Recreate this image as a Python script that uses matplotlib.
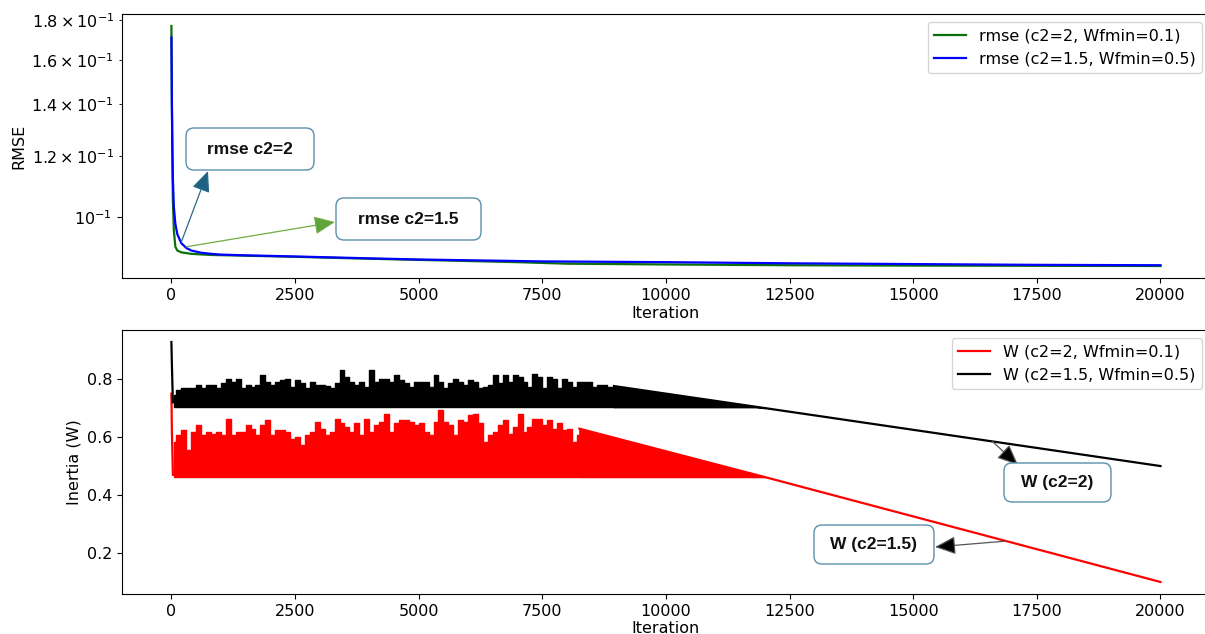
import matplotlib
matplotlib.use("Agg")
import matplotlib.pyplot as plt
import numpy as np
from matplotlib.patches import FancyBboxPatch

# ---------------- data ----------------
# RMSE curves (top panel)
rmse_iter_a = [0, 5, 10, 20, 30, 50, 80, 120, 200, 400, 800, 1500, 2500, 4000, 5000,
               7000, 8000, 10000, 12500, 15000, 20000]
rmse_c2_2 = [0.177, 0.160, 0.140, 0.118, 0.105, 0.096, 0.0915, 0.0905, 0.0900, 0.0896,
             0.0893, 0.0891, 0.0888, 0.0883, 0.0880, 0.0874, 0.0870, 0.0868, 0.0866,
             0.0865, 0.0864]
rmse_iter_b = [0, 5, 10, 20, 30, 50, 80, 120, 200, 300, 400, 600, 800, 1000, 1500, 2500,
               4000, 5000, 7500, 10000, 12500, 15000, 17500, 20000]
rmse_c2_15 = [0.171, 0.155, 0.140, 0.123, 0.112, 0.103, 0.098, 0.095, 0.0925, 0.0912,
              0.0905, 0.0899, 0.0896, 0.0894, 0.0892, 0.0889, 0.0884, 0.0881, 0.0876,
              0.0874, 0.0871, 0.0869, 0.0867, 0.0866]

# inertia W (bottom panel): start spike, noisy band (floor + peaks per 100 iterations), linear tail
w_red_start_iter = [0, 10, 30]
w_red_start = [0.75, 0.62, 0.47]
w_red_floor = 0.462
w_red_noise_iter = np.arange(50, 8300, 100)
w_red_peaks = [
    0.583, 0.606, 0.623, 0.555, 0.618, 0.641, 0.606, 0.618, 0.612, 0.618,
    0.606, 0.664, 0.606, 0.618, 0.618, 0.641, 0.629, 0.606, 0.641, 0.658,
    0.606, 0.623, 0.623, 0.618, 0.595, 0.600, 0.572, 0.606, 0.618, 0.652,
    0.629, 0.606, 0.618, 0.664, 0.647, 0.635, 0.618, 0.647, 0.606, 0.664,
    0.618, 0.641, 0.652, 0.681, 0.618, 0.647, 0.658, 0.658, 0.652, 0.641,
    0.647, 0.618, 0.606, 0.652, 0.693, 0.652, 0.641, 0.606, 0.658, 0.652,
    0.675, 0.681,
    0.647, 0.583, 0.606, 0.618, 0.641, 0.658, 0.612, 0.635, 0.681, 0.618,
    0.635, 0.664, 0.664, 0.641, 0.658, 0.629, 0.647, 0.623, 0.629, 0.583,
    0.606]
w_red_tail_iter = [8250, 12000, 20000]
w_red_tail = [0.629, 0.462, 0.10]

w_blk_start_iter = [0, 10, 30]
w_blk_start = [0.928, 0.85, 0.72]
w_blk_floor = 0.703
w_blk_noise_iter = np.arange(50, 9000, 100)
w_blk_peaks = [
    0.745, 0.762, 0.770, 0.768, 0.768, 0.779, 0.768, 0.779, 0.779, 0.768,
    0.785, 0.802, 0.791, 0.802, 0.768, 0.779, 0.773, 0.779, 0.813, 0.791,
    0.779, 0.791, 0.796, 0.802, 0.773, 0.796, 0.785, 0.768, 0.791, 0.779,
    0.779, 0.777, 0.770, 0.785, 0.831, 0.808, 0.791, 0.779, 0.791, 0.773,
    0.831, 0.791, 0.802, 0.802, 0.791, 0.813, 0.796, 0.785, 0.773, 0.791,
    0.791, 0.791, 0.773, 0.813, 0.791, 0.768, 0.785, 0.802, 0.791, 0.779,
    0.796, 0.791,
    0.768, 0.773, 0.779, 0.813, 0.785, 0.813, 0.791, 0.813, 0.808, 0.791,
    0.773, 0.819, 0.808, 0.768, 0.808, 0.802, 0.768, 0.802, 0.791, 0.773,
    0.791, 0.791, 0.791, 0.773, 0.779, 0.779, 0.773, 0.773]
w_blk_tail_iter = [8950, 12000, 20000]
w_blk_tail = [0.776, 0.70, 0.50]

# ---------------- figure ----------------
W_PX, H_PX = 1205, 634
plt.rcParams['font.size'] = 11.5
fig = plt.figure(figsize=(W_PX / 100, H_PX / 100), dpi=100)

ax1 = fig.add_axes([0.1012, 0.5615, 0.9029, 0.4164])
ax2 = fig.add_axes([0.1012, 0.0631, 0.9029, 0.4164])

# top: RMSE
ax1.plot(rmse_iter_a, rmse_c2_2, color='#0a700a', lw=1.6, label='rmse (c2=2, Wfmin=0.1)')
ax1.plot(rmse_iter_b, rmse_c2_15, color='blue', lw=1.6, label='rmse (c2=1.5, Wfmin=0.5)')
ax1.set_yscale('log')
ax1.set_xlabel('Iteration', labelpad=2)
ax1.set_ylabel('RMSE')
ax1.legend(loc='upper right')

# bottom: inertia
ax2.fill_between(w_red_noise_iter, w_red_floor, w_red_peaks, step='mid',
                 color='red', lw=1.0)
ax2.fill_between(w_red_tail_iter[:2], w_red_floor, w_red_tail[:2], color='red', lw=1.0)
ax2.plot(w_red_start_iter, w_red_start, color='red', lw=1.6)
ax2.plot(w_red_tail_iter, w_red_tail, color='red', lw=1.6, label='W (c2=2, Wfmin=0.1)')

ax2.fill_between(w_blk_noise_iter, w_blk_floor, w_blk_peaks, step='mid',
                 color='black', lw=1.0)
ax2.fill_between(w_blk_tail_iter[:2], w_blk_floor, w_blk_tail[:2], color='black', lw=1.0)
ax2.plot(w_blk_start_iter, w_blk_start, color='black', lw=1.6)
ax2.plot(w_blk_tail_iter, w_blk_tail, color='black', lw=1.6, label='W (c2=1.5, Wfmin=0.5)')
ax2.set_xlabel('Iteration', labelpad=2)
ax2.set_ylabel('Inertia (W)')
ax2.set_yticks([0.2, 0.4, 0.6, 0.8])
ax2.legend(loc='upper right')


# call-out boxes (pixel positions on the figure, origin top-left)
def callout(ax, text, box, tip, point, arrow_color, head_color):
    x0, y0, x1, y1 = box
    patch = FancyBboxPatch((x0 / 100, (H_PX - y1) / 100), (x1 - x0) / 100, (y1 - y0) / 100,
                           boxstyle='round,pad=0,rounding_size=0.08',
                           transform=fig.dpi_scale_trans, fc='white', ec='#5a8fab',
                           lw=1.0, zorder=5)
    fig.patches.append(patch)
    fig.text((x0 + x1) / 2 / W_PX, 1 - (y0 + y1) / 2 / H_PX, text, ha='center', va='center',
             family='Liberation Sans', weight='bold', fontsize=12.5, color='#111111', zorder=6)
    ax.annotate('', xy=(tip[0] / W_PX, 1 - tip[1] / H_PX), xycoords='figure fraction',
                xytext=point, textcoords='data',
                arrowprops=dict(arrowstyle='-|>,head_length=0.8,head_width=0.35',
                                mutation_scale=16, color=arrow_color, fc=head_color,
                                ec=arrow_color, lw=0.9, shrinkA=0, shrinkB=0))


callout(ax1, 'rmse c2=2', (186, 128, 314, 170), (208, 171), (200, 0.0928), '#2b6a8a', '#1f6183')
callout(ax1, 'rmse c2=1.5', (336, 198, 481, 240), (335, 222), (300, 0.0915), '#70ad47', '#5fa33a')
callout(ax2, 'W (c2=2)', (1004, 463, 1111, 502), (1018, 465), (16600, 0.585), '#555555', 'black')
callout(ax2, 'W (c2=1.5)', (814, 525, 934, 564), (935, 547), (16870, 0.241), '#555555', 'black')

fig.savefig('out.png', dpi=100)
